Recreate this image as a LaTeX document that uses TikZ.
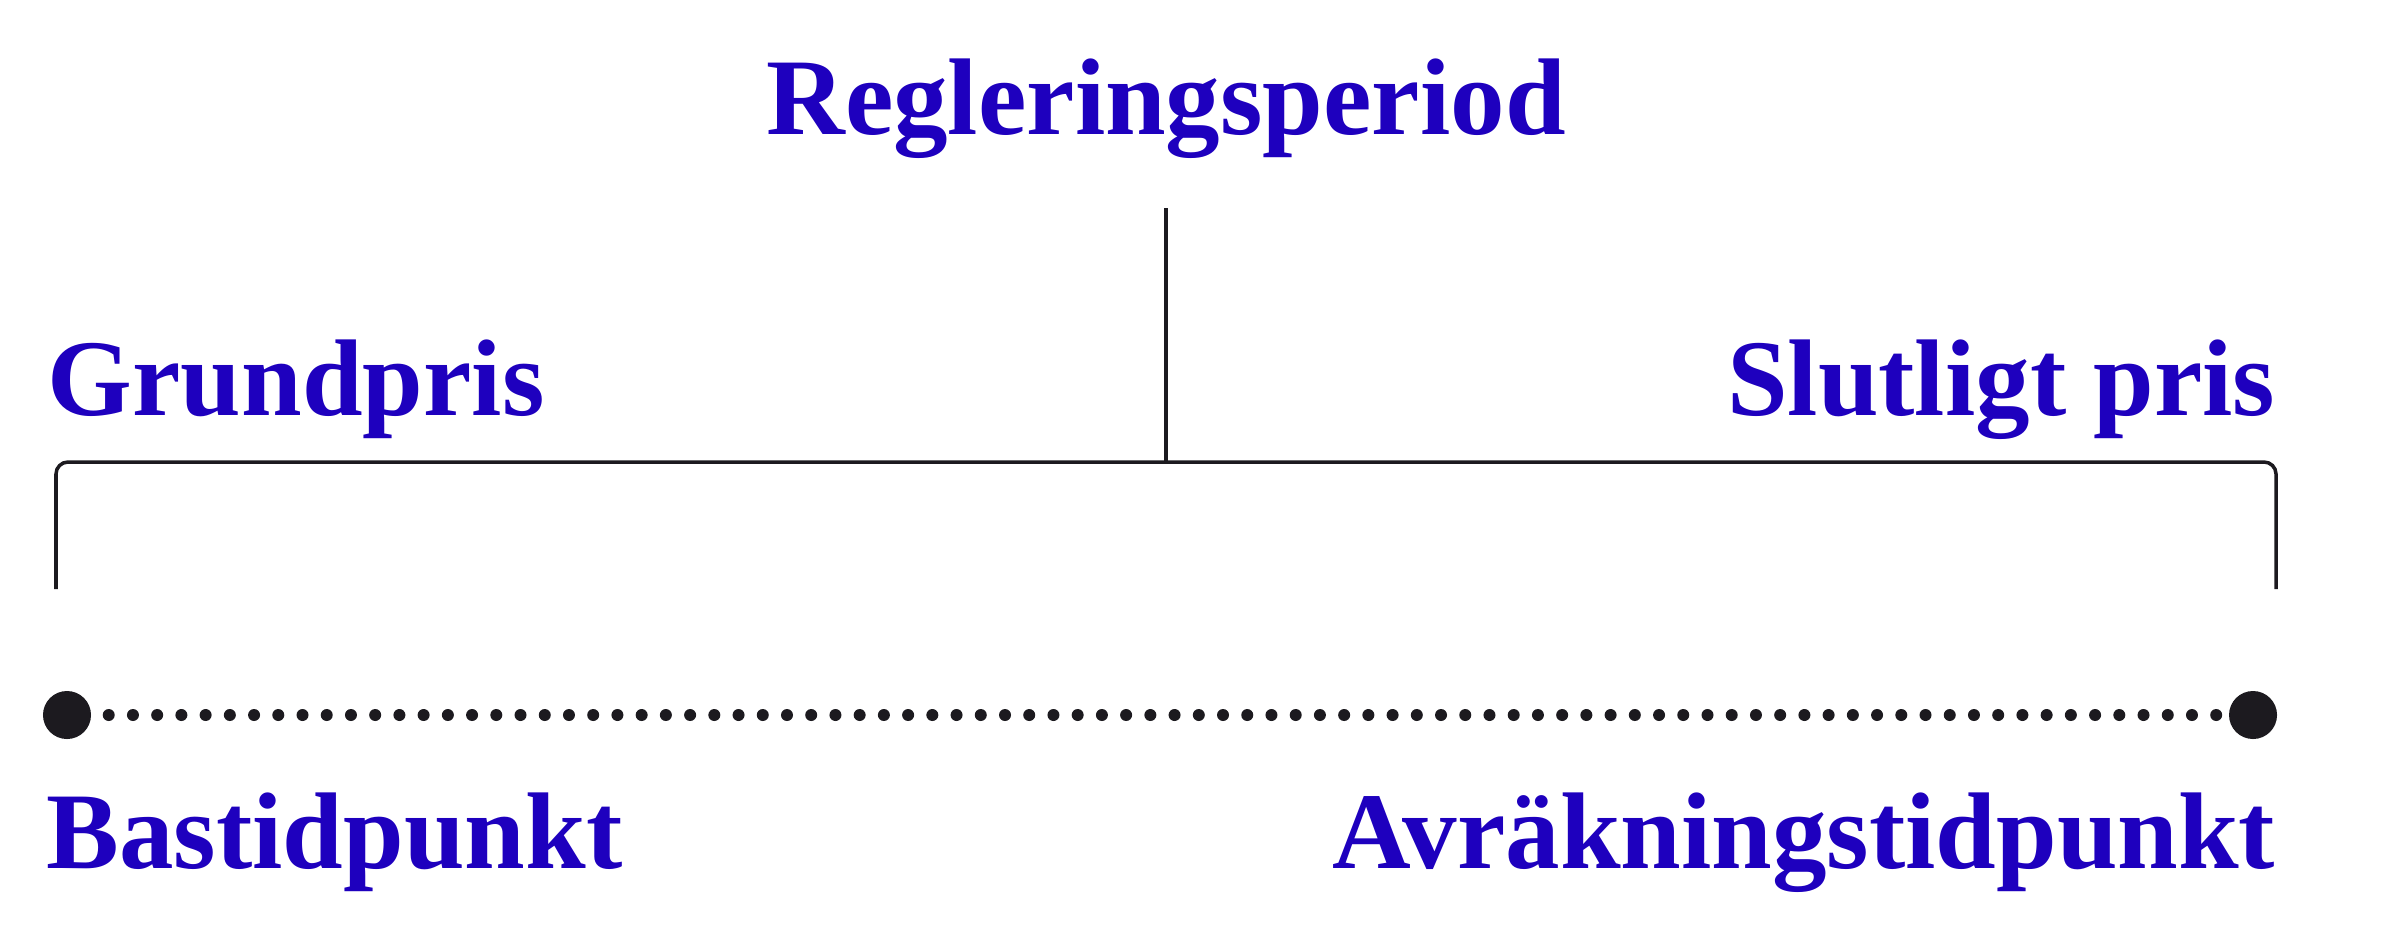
\documentclass[tikz,border=0pt]{standalone}
\usepackage{fontspec}
\setmainfont{Liberation Serif}
\usepackage{xcolor}
\usepackage{tikz}
\definecolor{periodblue}{RGB}{30, 0, 190}
\definecolor{inkblack}{RGB}{28, 26, 31}

\begin{document}
\begin{tikzpicture}[x=0.01cm, y=-0.01cm,
  lbl/.style={font=\fontsize{31}{36}\selectfont\bfseries, text=periodblue, inner sep=0pt},
  bigdot/.style={circle, fill=inkblack, inner sep=0pt, minimum size=0.48cm}]
\useasboundingbox (0,0) rectangle (2407,939);
\node[lbl, anchor=base] (period) at (1166,134) {Regleringsperiod};
\node[lbl, anchor=base west] (grund) at (47,415) {Grundpris};
\node[lbl, anchor=base east] (slut) at (2276,415) {Slutligt pris};
\coordinate (top) at (1166,208);
\coordinate (mid) at (1166,462);
\coordinate (bl) at (56,589);
\coordinate (br) at (2276,589);
\draw[inkblack, line width=0.035cm] (top) -- (mid);
\draw[inkblack, line width=0.035cm, rounded corners=0.12cm] (bl) |- (mid) -| (br);
\node[bigdot] (bas) at (67,715) {};
\node[bigdot] (avr) at (2253,715) {};
\draw[inkblack, line width=0.12cm, line cap=round, dash pattern=on 0pt off 0.2421cm,
  shorten <=0.17cm, shorten >=0.10cm] (bas) -- (avr);
\node[lbl, anchor=base west] (bastid) at (46,868) {Bastidpunkt};
\node[lbl, anchor=base east] (avrtid) at (2276,868) {Avräkningstidpunkt};
\end{tikzpicture}
\end{document}
